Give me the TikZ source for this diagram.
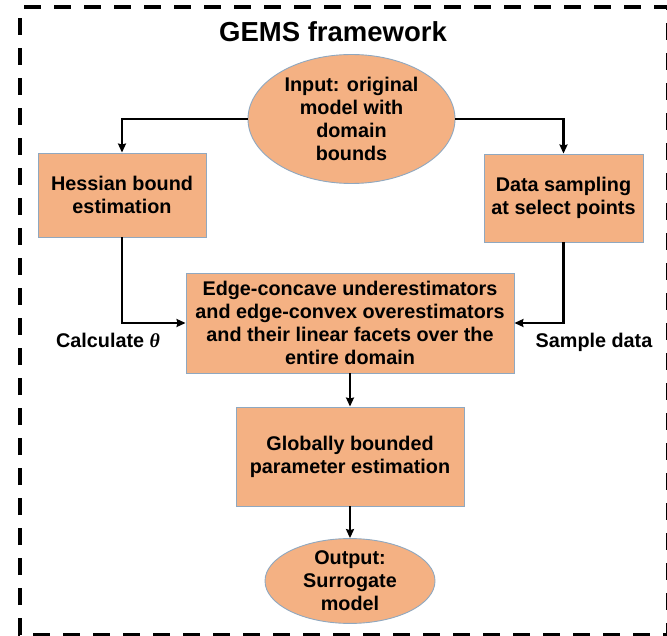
\documentclass[tikz,border=0pt]{standalone}
\usepackage{fontspec}
\setmainfont{Liberation Sans}
\newfontfamily\thetafont{Liberation Serif}
\usetikzlibrary{shapes.geometric,arrows.meta}
\definecolor{boxfill}{HTML}{F4B183}
\definecolor{boxline}{HTML}{8FA8C0}
\begin{document}
\begin{tikzpicture}[x=1pt,y=-1pt,
  every node/.style={font=\bfseries\fontsize{19.8}{23}\selectfont, align=center, inner sep=0pt},
  stepbox/.style={draw=boxline, line width=0.9pt, fill=boxfill, rectangle},
  roundbox/.style={draw=boxline, line width=0.9pt, fill=boxfill, ellipse},
  arr/.style={draw=black, line width=2.4pt, -{Stealth[length=9pt,width=8pt,inset=1pt]}},
  frame/.style={draw=black, line width=4pt, dash pattern=on 17pt off 13pt, dash phase=-4pt}
]
\useasboundingbox (0,0) rectangle (667,636);
\begin{scope}
\clip (0,0) rectangle (667,636);
% outer dashed frame
\draw[frame] (20,7) -- (668,7) -- (668,635) -- (20,635) -- cycle;
\end{scope}

% title
\node (title) at (333,32) {\fontsize{27.5}{32}\selectfont GEMS framework};

% flow nodes
\node[roundbox, minimum width=207pt, minimum height=129pt] (in) at (351.5,119)
  {Input: original\\model with\\domain\\bounds};
\node[stepbox, minimum width=168pt, minimum height=84pt] (hess) at (122,195)
  {Hessian bound\\estimation};
\node[stepbox, minimum width=159pt, minimum height=88pt] (data) at (563.5,198)
  {Data sampling\\at select points};
\node[stepbox, minimum width=328pt, minimum height=100pt] (mid) at (350,323)
  {Edge-concave underestimators\\and edge-convex overestimators\\and their linear facets over the\\entire domain};
\node[stepbox, minimum width=228pt, minimum height=99pt] (glob) at (350,456.5)
  {Globally bounded\\parameter estimation};
\node[roundbox, minimum width=170pt, minimum height=80pt] (out) at (350,581)
  {Output:\\Surrogate\\model};

% edge labels
\node (calc) at (108,340) {Calculate {\thetafont\itshape θ}};
\node (samp) at (594,342) {Sample data};

% connectors
\draw[arr] (in.west) -| (hess.north);
\draw[arr] (in.east) -| (data.north);
\draw[arr] (hess.south) |- (mid.west);
\draw[arr] (data.south) |- (mid.east);
\draw[arr] (mid.south) -- (glob.north);
\draw[arr] (glob.south) -- (out.north);
\end{tikzpicture}
\end{document}
